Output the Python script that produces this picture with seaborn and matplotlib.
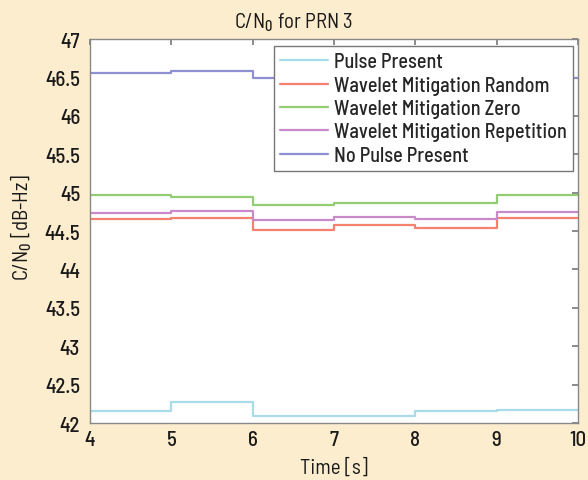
import numpy as np
import pandas as pd
import matplotlib
matplotlib.use("Agg")
import matplotlib.pyplot as plt
import seaborn as sns

times = [4, 5, 6, 7, 8, 9, 10]
series_names = ["Pulse Present", "Wavelet Mitigation Random", "Wavelet Mitigation Zero",
                "Wavelet Mitigation Repetition", "No Pulse Present"]
pulse_present = [42.16, 42.28, 42.09, 42.09, 42.16, 42.17, 42.17]
wavelet_random = [44.66, 44.67, 44.52, 44.58, 44.54, 44.67, 44.67]
wavelet_zero = [44.97, 44.95, 44.84, 44.87, 44.86, 44.97, 44.97]
wavelet_repetition = [44.74, 44.76, 44.64, 44.68, 44.66, 44.75, 44.75]
no_pulse = [46.56, 46.59, 46.50, 46.50, 46.50, 46.50, 46.50]
colors = ["#a9dce9", "#f4826f", "#92cd74", "#c98ac9", "#8f8fd3"]
yticks = [42, 42.5, 43, 43.5, 44, 44.5, 45, 45.5, 46, 46.5, 47]
ytick_labels = ["42", "42.5", "43", "43.5", "44", "44.5", "45", "45.5", "46", "46.5", "47"]

all_vals = [pulse_present, wavelet_random, wavelet_zero, wavelet_repetition, no_pulse]
df = pd.DataFrame({
    "time": times * len(series_names),
    "value": sum(all_vals, []),
    "series": [n for n in series_names for _ in times],
})

sns.set_style("white")
FONT = "Barlow Semi Condensed"
plt.rcParams["font.family"] = [FONT, "DejaVu Sans"]
plt.rcParams["font.weight"] = 500
plt.rcParams["mathtext.fontset"] = "custom"
plt.rcParams["mathtext.rm"] = FONT + ":medium"
plt.rcParams["mathtext.it"] = FONT + ":medium"
plt.rcParams["mathtext.bf"] = FONT + ":bold"

bg = "#fdedcf"
txtc = "#1a1a1a"
fig = plt.figure(figsize=(5.88, 4.81), dpi=100, facecolor=bg)
ax = fig.add_axes([0.153, 0.1185, 0.830, 0.798])
ax.set_facecolor("white")

sns.lineplot(data=df, x="time", y="value", hue="series", hue_order=series_names,
             palette=colors, drawstyle="steps-post", linewidth=1.6, ax=ax)

ax.set_xlim(4, 10)
ax.set_ylim(42, 47)
ax.set_xticks(times)
ax.set_xticklabels([str(t) for t in times])
ax.set_yticks(yticks)
ax.set_yticklabels(ytick_labels)
ax.tick_params(direction="in", length=4, width=1.2, color="#777777", labelsize=15,
               top=True, right=True, labelcolor=txtc)
ax.tick_params(axis="y", pad=7)
ax.tick_params(axis="x", pad=5)
for s in ax.spines.values():
    s.set_color("#888888")
    s.set_linewidth(1.0)

ax.set_title("C/N$_0$ for PRN 3", fontsize=15, color=txtc, x=(294 - 90) / 488, pad=8)
ax.set_xlabel("Time [s]", fontsize=15, color=txtc)
ax.set_ylabel("C/N$_0$ [dB-Hz]", fontsize=15, color=txtc)
ax.yaxis.set_label_coords((34 - 90) / 488, (424 - 227) / 384)
ax.xaxis.set_label_coords(0.5, (424 - 474) / 384)
ax.xaxis.label.set_va("baseline")

leg = ax.legend(loc="upper right", bbox_to_anchor=((573 - 90) / 488, (424 - 47) / 384),
                borderaxespad=0, fontsize=14.5,
                handlelength=2.4, handletextpad=0.3, labelspacing=0.22,
                borderpad=0.3, fancybox=False, framealpha=1, edgecolor="#777777")
leg.get_frame().set_linewidth(1.0)

fig.savefig("out.png", dpi=100, facecolor=bg)
